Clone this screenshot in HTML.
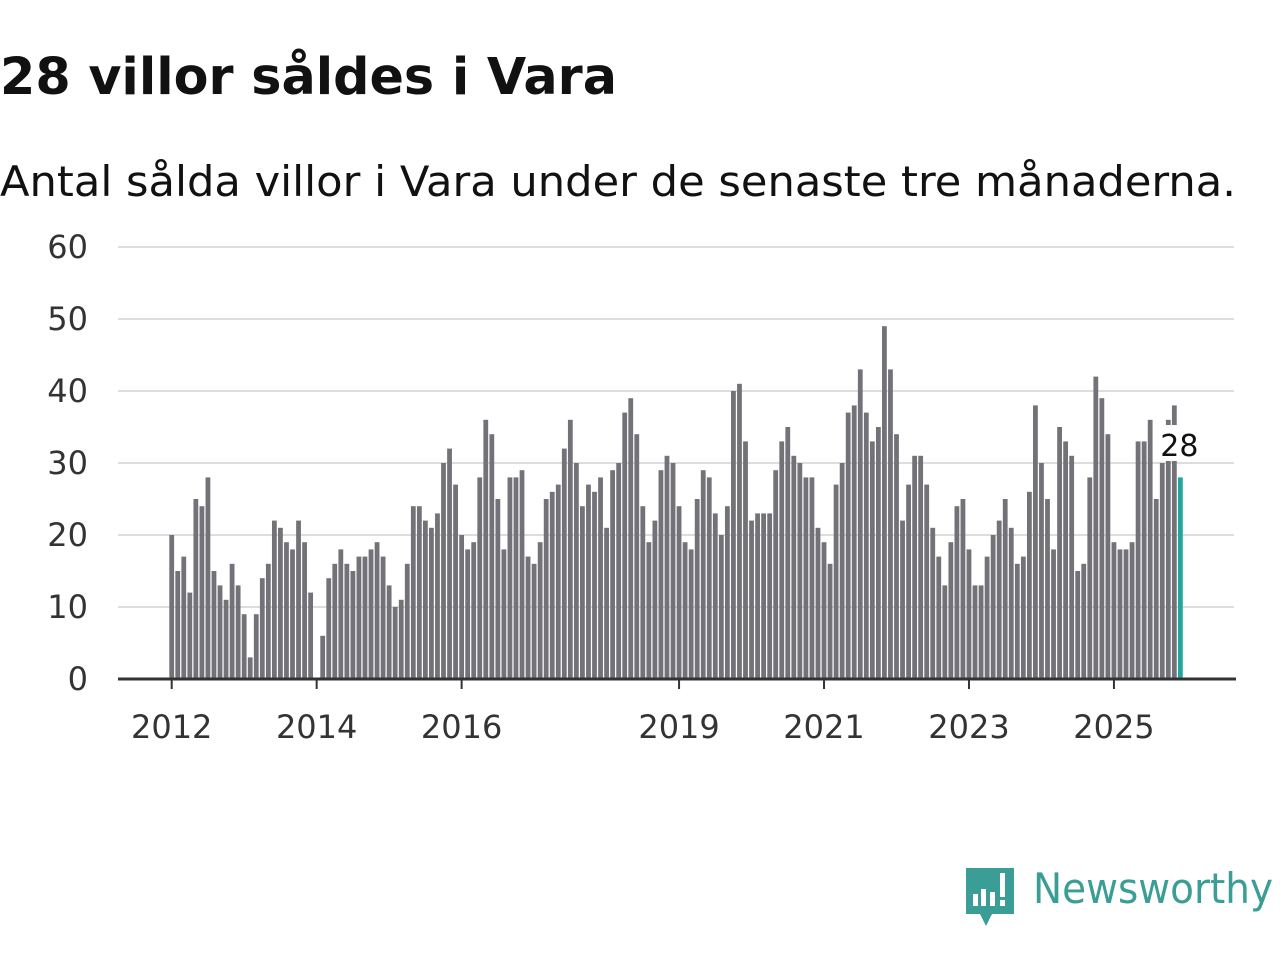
<!DOCTYPE html>
<html><head><meta charset="utf-8"><style>
body{margin:0;background:#fff;font-family:"Liberation Sans","DejaVu Sans",sans-serif;}
#wrap{position:relative;width:1280px;height:960px;overflow:hidden;}
</style></head><body>
<div id="wrap">
<svg id="chart" width="1280" height="960">
<text x="0" y="94" font-size="51" font-weight="bold" fill="#111" font-family="DejaVu Sans, sans-serif" textLength="617" lengthAdjust="spacingAndGlyphs">28 villor såldes i Vara</text>
<text x="0" y="196" font-size="42" fill="#111" font-family="DejaVu Sans, sans-serif" textLength="1236" lengthAdjust="spacingAndGlyphs">Antal sålda villor i Vara under de senaste tre månaderna.</text>
<g id="grid"></g><g id="bars"></g><g id="xaxis"></g>
<g>
<path d="M966,868 h48 v46 h-22 l-6,12 l-6,-12 h-14 z" fill="#3a9e96"/>
<rect x="973" y="894" width="5" height="12" fill="#fff"/>
<rect x="981" y="889" width="5" height="17" fill="#fff"/>
<rect x="990" y="892" width="5" height="14" fill="#fff"/>
<rect x="1000" y="873" width="5" height="24" fill="#fff"/>
<rect x="1000" y="900" width="5" height="6" fill="#fff"/>
<text x="1033" y="903" font-size="42" fill="#3a9e96" font-family="DejaVu Sans, sans-serif" textLength="240" lengthAdjust="spacingAndGlyphs">Newsworthy</text>
</g>
</svg>
</div>
<script>
const values=[20,15,17,12,25,24,28,15,13,11,16,13,
9,3,9,14,16,22,21,19,18,22,19,12,
0,6,14,16,18,16,15,17,17,18,19,17,
13,10,11,16,24,24,22,21,23,30,32,27,
20,18,19,28,36,34,25,18,28,28,29,17,
16,19,25,26,27,32,36,30,24,27,26,28,
21,29,30,37,39,34,24,19,22,29,31,30,
24,19,18,25,29,28,23,20,24,40,41,33,
22,23,23,23,29,33,35,31,30,28,28,21,
19,16,27,30,37,38,43,37,33,35,49,43,
34,22,27,31,31,27,21,17,13,19,24,25,
18,13,13,17,20,22,25,21,16,17,26,38,
30,25,18,35,33,31,15,16,28,42,39,34,
19,18,18,19,33,33,36,25,30,36,38,28];
const yTicks=[0,10,20,30,40,50,60];
const xTickLabels=["2012","2014","2016","2019","2021","2023","2025"];
const xTickIndex=[0,24,48,84,108,132,156];
const NS="http://www.w3.org/2000/svg";
const x0=171.7,step=6.04,yBase=679,yTop=247,yMax=60;
function xs(i){return x0+i*step;}
function ys(v){return yBase-(yBase-yTop)*v/yMax;}
function mk(tag,attrs,parent){const e=document.createElementNS(NS,tag);for(const k in attrs)e.setAttribute(k,attrs[k]);parent.appendChild(e);return e;}
const grid=document.getElementById('grid'),bars=document.getElementById('bars'),xa=document.getElementById('xaxis');
yTicks.forEach(t=>{
 if(t>0){const l=mk('line',{x1:118,x2:1234,y1:ys(t),y2:ys(t),stroke:'#dddddd','stroke-width':2},grid);
 
 }
 const tx=mk('text',{x:88,y:ys(t)+11,'font-size':32,'text-anchor':'end',fill:'#333','font-family':'DejaVu Sans, sans-serif'},grid);
 tx.textContent=t;
 
 
});
values.forEach((v,i)=>{
 const last=i===values.length-1;
 const r=mk('rect',{x:xs(i)-2.4,y:ys(v),width:4.8,height:yBase-ys(v),fill:last?'#1ea89b':'#737278'},bars);
 
 
});
const ax=mk('line',{x1:118,x2:1236,y1:yBase,y2:yBase,stroke:'#333','stroke-width':3},xa);


xTickIndex.forEach((idx,k)=>{
 const tl=mk('line',{x1:xs(idx),x2:xs(idx),y1:yBase,y2:yBase+10,stroke:'#333','stroke-width':2},xa);
 
 
 const t=mk('text',{x:xs(idx),y:738,'font-size':32,'text-anchor':'middle',fill:'#333','font-family':'DejaVu Sans, sans-serif'},xa);
 t.textContent=xTickLabels[k];
 
 
});
const li=values.length-1;
const lb=mk('rect',{x:xs(li)-22,y:425,width:42,height:36,rx:6,fill:'#fff'},xa);


const lt=mk('text',{x:xs(li)-1,y:456,'font-size':30,'text-anchor':'middle',fill:'#111','font-family':'DejaVu Sans, sans-serif'},xa);
lt.textContent=values[li];


</script>
</body></html>
